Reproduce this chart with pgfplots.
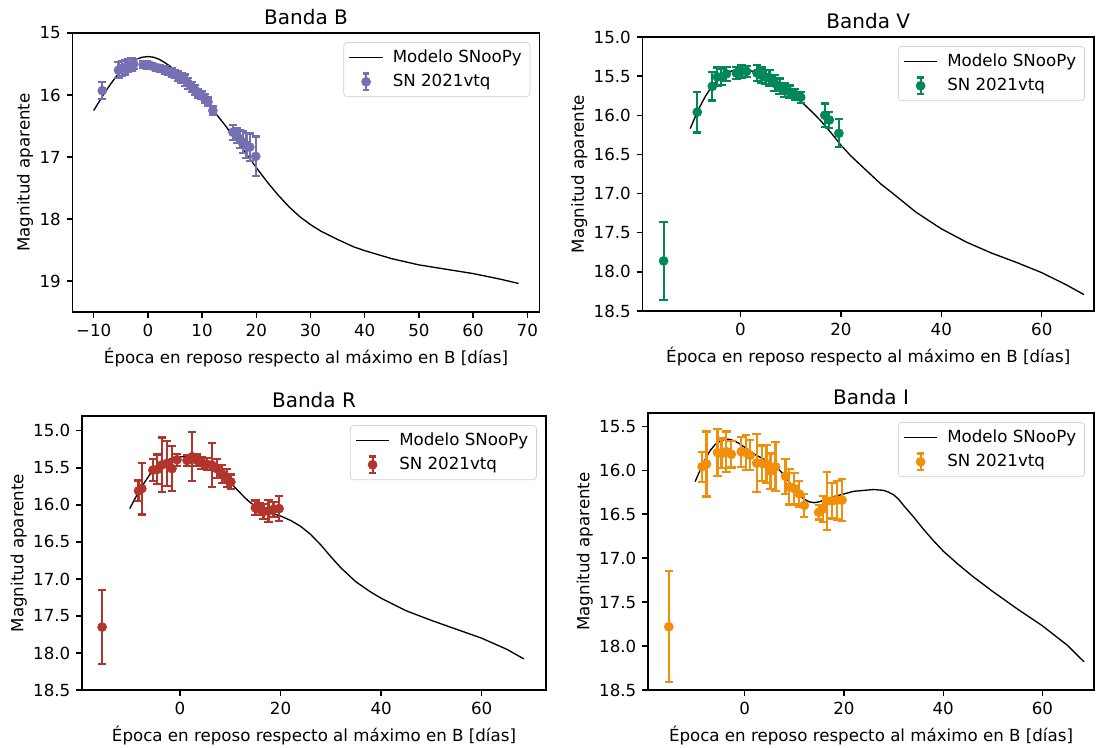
\documentclass[border=0pt]{standalone}
\usepackage{fontspec}
\setmainfont{DejaVu Sans}
\usepackage{pgfplots}
\usepackage{pgfplotstable}
\pgfplotsset{compat=1.18}

\definecolor{cB}{HTML}{7570B3}
\definecolor{cV}{HTML}{00875A}
\definecolor{cR}{HTML}{B2342B}
\definecolor{cI}{HTML}{F28F0A}

% ---------- data ----------
\pgfplotstableread{
x y e
-8.4 15.93 0.14
-5.4 15.60 0.13
-4.8 15.57 0.12
-4.2 15.55 0.12
-3.6 15.52 0.10
-3.0 15.51 0.10
-2.6 15.50 0.08
-0.85 15.51 0.06
-0.11 15.52 0.06
0.7 15.53 0.05
1.6 15.56 0.05
2.2 15.57 0.05
3.2 15.60 0.06
3.8 15.62 0.06
4.4 15.64 0.07
5.0 15.66 0.07
5.6 15.70 0.08
6.2 15.72 0.08
6.8 15.76 0.09
7.4 15.81 0.09
8.1 15.87 0.08
8.7 15.92 0.08
9.3 15.97 0.07
9.9 16.00 0.07
10.5 16.06 0.07
11.1 16.11 0.07
12.0 16.25 0.07
15.7 16.60 0.12
16.4 16.65 0.12
17.0 16.71 0.15
17.6 16.76 0.18
18.2 16.81 0.20
18.8 16.84 0.22
19.9 16.99 0.32
}\dataB

\pgfplotstableread{
x y
-10 16.25
-9 16.11
-8 15.97
-7 15.84
-6 15.72
-5 15.61
-4 15.52
-3 15.46
-2 15.42
-1 15.39
0 15.38
1 15.39
2 15.42
3 15.47
4 15.53
5 15.60
6 15.67
7 15.75
8 15.84
9 15.93
10 16.03
12 16.24
14 16.46
16 16.69
18 16.93
20 17.17
22 17.40
24 17.61
26 17.80
28 17.96
30 18.09
32 18.20
35 18.33
38 18.45
40 18.51
45 18.64
50 18.74
55 18.81
60 18.88
65 18.97
68.4 19.04
}\modB

\pgfplotstableread{
x y e
-15.3 17.86 0.50
-8.6 15.96 0.26
-5.6 15.63 0.18
-4.6 15.51 0.12
-3.8 15.51 0.10
-2.8 15.47 0.09
-0.8 15.46 0.08
0.2 15.44 0.08
1.2 15.44 0.07
3.3 15.46 0.10
4.2 15.49 0.10
5.0 15.51 0.09
5.8 15.52 0.10
6.8 15.59 0.10
7.8 15.63 0.10
8.8 15.68 0.09
9.8 15.70 0.08
10.8 15.73 0.07
12.0 15.77 0.07
16.8 16.00 0.15
17.7 16.06 0.10
19.6 16.23 0.18
}\dataV

\pgfplotstableread{
x y
-10 16.17
-9 16.02
-8 15.88
-7 15.76
-6 15.66
-5 15.58
-4 15.52
-3 15.47
-2 15.44
-1 15.42
0 15.42
1 15.42
2 15.43
3 15.45
4 15.47
5 15.50
6 15.55
7 15.60
8 15.64
9 15.68
10 15.72
12 15.82
14 15.94
16 16.07
18 16.22
20 16.38
22 16.52
25 16.70
28 16.88
30 16.98
35 17.24
40 17.45
45 17.62
50 17.76
55 17.88
60 18.01
65 18.17
68.4 18.29
}\modV

\pgfplotstableread{
x y e
-15.5 17.65 0.50
-8.25 15.81 0.14
-7.6 15.78 0.35
-5.4 15.53 0.15
-4.5 15.52 0.20
-3.6 15.46 0.37
-2.6 15.44 0.30
-1.6 15.51 0.30
-0.6 15.39 0.08
1.4 15.40 0.07
2.4 15.35 0.33
3.4 15.40 0.08
4.3 15.43 0.08
5.3 15.45 0.08
6.3 15.46 0.30
7.3 15.51 0.13
8.3 15.58 0.12
9.3 15.64 0.12
10.1 15.69 0.10
15.0 16.04 0.10
15.9 16.06 0.08
16.6 16.09 0.10
17.6 16.08 0.15
18.6 16.06 0.10
19.7 16.05 0.17
}\dataR

\pgfplotstableread{
x y
-10 16.05
-9 15.92
-8 15.80
-7 15.69
-6 15.59
-5 15.51
-4 15.45
-3 15.41
-2 15.38
-1 15.36
0 15.35
1 15.35
2 15.36
3 15.38
4 15.41
5 15.45
6 15.49
7 15.53
8 15.58
9 15.64
10 15.70
11 15.77
12 15.84
13 15.91
14 15.97
15 16.02
16 16.06
18 16.11
20 16.15
22 16.21
24 16.29
26 16.40
28 16.54
30 16.70
32 16.85
35 17.04
38 17.18
40 17.26
45 17.43
50 17.56
55 17.68
60 17.80
65 17.95
68.4 18.08
}\modR

\pgfplotstableread{
x y e
-15.3 17.78 0.63
-8.6 15.96 0.17
-7.7 15.93 0.37
-5.5 15.80 0.27
-4.7 15.81 0.17
-3.7 15.79 0.23
-2.7 15.82 0.15
-0.7 15.79 0.17
0.2 15.80 0.20
1.1 15.83 0.17
2.4 15.92 0.33
3.4 15.92 0.20
4.4 15.93 0.22
5.2 16.01 0.20
6.2 15.96 0.28
8.2 16.07 0.20
9.0 16.19 0.20
10.0 16.21 0.18
11.0 16.27 0.15
12.0 16.40 0.13
14.9 16.48 0.08
15.8 16.44 0.15
16.6 16.35 0.33
17.6 16.35 0.20
18.6 16.34 0.22
19.6 16.34 0.24
}\dataI

\pgfplotstableread{
x y
-10 16.13
-9 16.00
-8 15.88
-7 15.78
-6 15.71
-5 15.67
-4 15.65
-3 15.65
-2 15.67
-1 15.70
0 15.74
1 15.78
2 15.82
3 15.85
4 15.88
5 15.91
6 15.95
7 16.00
8 16.06
9 16.14
10 16.22
11 16.29
12 16.33
13 16.36
14 16.37
15 16.36
16 16.34
18 16.30
20 16.27
22 16.24
24 16.23
26 16.22
28 16.23
29 16.25
30 16.28
31 16.33
32 16.40
34 16.53
36 16.67
38 16.80
40 16.92
43 17.07
46 17.21
50 17.38
55 17.58
60 17.77
65 17.99
68.4 18.18
}\modI

\pgfplotsset{
  mpl/.style={
    scale only axis,
    anchor=north west,
    y dir=reverse,
    axis line style={line width=0.8pt},
    tick pos=left,
    tick align=outside,
    major tick length=3.5pt,
    every tick/.style={line width=0.8pt, black},
    tick label style={font=\fontsize{10}{12}\selectfont},
    /pgf/number format/assume math mode=true,
    label style={font=\fontsize{10}{12}\selectfont},
    ylabel shift=-3pt,
    title style={font=\fontsize{12}{14}\selectfont, yshift=-4.5pt},
    xlabel={Época en reposo respecto al máximo en B [días]},
    ylabel={Magnitud aparente},
    legend style={at={(1,1)}, anchor=north east, xshift=-5.5pt, yshift=-5.5pt,
      draw=black!18, rounded corners=2pt, fill=white,
      font=\fontsize{10}{12}\selectfont, cells={anchor=west},
      row sep=1.5pt, inner xsep=3pt, inner ysep=2.5pt},
  },
  modl/.style={black, line width=0.8pt, no markers,
    legend image code/.code={\draw[black,line width=0.8pt] (0pt,0pt)--(20pt,0pt);
      \path[draw=none,fill=none] (24pt,0pt) circle (0pt);}},
  dat/.style={only marks, mark=*, mark size=2.7pt, color=#1,
    mark options={fill=#1, draw=#1},
    legend image code/.code={
      \draw[#1,line width=1.3pt] (10pt,-5pt)--(10pt,5pt);
      \draw[#1,line width=1.3pt] (8pt,-5pt)--(12pt,-5pt);
      \draw[#1,line width=1.3pt] (8pt,5pt)--(12pt,5pt);
      \fill[#1] (10pt,0pt) circle (2.7pt);
      \path[draw=none,fill=none] (0pt,0pt) circle (0pt) (24pt,0pt) circle (0pt);},
    error bars/.cd, y dir=both, y explicit,
    error mark=|,
    error bar style={line width=1.3pt, #1},
    error mark options={line width=1.3pt, mark size=2.5pt, #1}},
  yfix1/.style={yticklabel style={/pgf/number format/.cd, fixed, fixed zerofill, precision=1}},
}

\begin{document}
\begin{tikzpicture}
\path[use as bounding box] (0pt,0pt) rectangle (661.8pt,-448.2pt);

% Banda B
\begin{axis}[mpl, at={(43.5pt,-19.8pt)}, width=280.2pt, height=167.4pt,
  xmin=-13.9, xmax=72.25, ymin=15, ymax=19.5,
  xtick={-10,0,10,20,30,40,50,60,70},
  xticklabels={−10,0,10,20,30,40,50,60,70},
  ytick={15,16,17,18,19},
  title={Banda B}]
\addplot[modl] table[x=x,y=y] {\modB};
\addlegendentry{Modelo SNooPy}
\addplot[dat=cB] table[x=x,y=y,y error=e] {\dataB};
\addlegendentry{SN 2021vtq}
\end{axis}

% Banda V
\begin{axis}[mpl, yfix1, at={(385.5pt,-22.2pt)}, width=270.9pt, height=164.4pt,
  xmin=-19.5, xmax=70.4, ymin=15, ymax=18.5,
  xtick={0,20,40,60},
  ytick={15,15.5,16,16.5,17,17.5,18,18.5},
  title={Banda V}]
\addplot[modl] table[x=x,y=y] {\modV};
\addlegendentry{Modelo SNooPy}
\addplot[dat=cV] table[x=x,y=y,y error=e] {\dataV};
\addlegendentry{SN 2021vtq}
\end{axis}

% Banda R
\begin{axis}[mpl, yfix1, at={(49.2pt,-249.6pt)}, width=278.4pt, height=164.4pt,
  xmin=-19.5, xmax=72.8, ymin=14.8, ymax=18.5,
  xtick={0,20,40,60},
  ytick={15,15.5,16,16.5,17,17.5,18,18.5},
  title={Banda R}]
\addplot[modl] table[x=x,y=y] {\modR};
\addlegendentry{Modelo SNooPy}
\addplot[dat=cR] table[x=x,y=y,y error=e] {\dataR};
\addlegendentry{SN 2021vtq}
\end{axis}

% Banda I
\begin{axis}[mpl, yfix1, at={(388.8pt,-247.8pt)}, width=267.6pt, height=166.2pt,
  xmin=-19.5, xmax=70.4, ymin=15.35, ymax=18.5,
  xtick={0,20,40,60},
  ytick={15.5,16,16.5,17,17.5,18,18.5},
  title={Banda I}]
\addplot[modl] table[x=x,y=y] {\modI};
\addlegendentry{Modelo SNooPy}
\addplot[dat=cI] table[x=x,y=y,y error=e] {\dataI};
\addlegendentry{SN 2021vtq}
\end{axis}
\end{tikzpicture}
\end{document}
